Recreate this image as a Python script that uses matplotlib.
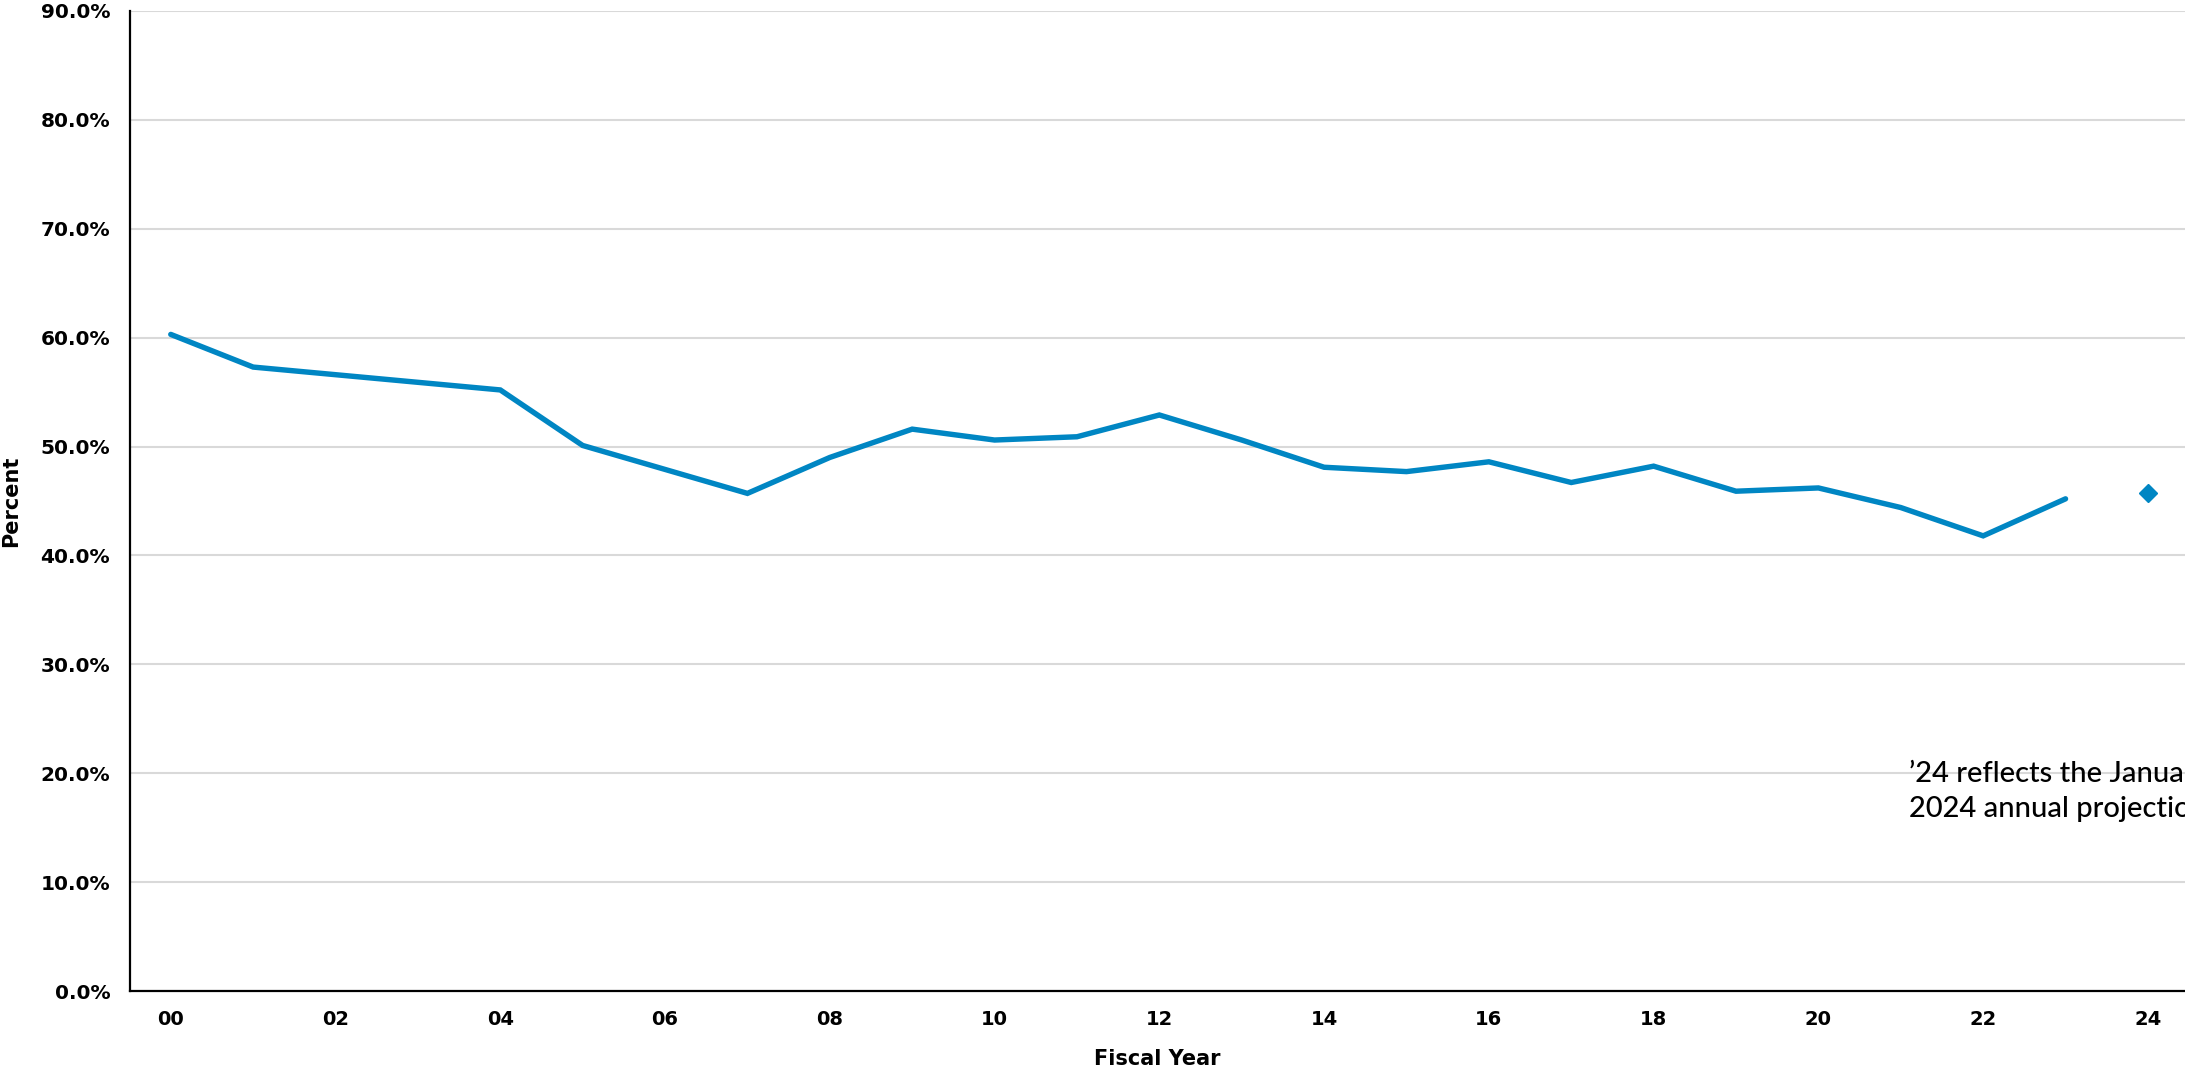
import matplotlib.pyplot as plt

anios = list(range(0, 24))
porcentaje = [60.3, 57.3, 56.6, 55.9, 55.2, 50.1, 47.9, 45.7, 49.0, 51.6, 50.6, 50.9,
              52.9, 50.6, 48.1, 47.7, 48.6, 46.7, 48.2, 45.9, 46.2, 44.4, 41.8, 45.2]

anio_proyeccion = [24]
porcentaje_proyeccion = [45.7]

ticks_x = list(range(0, 25, 2))
etiquetas_x = [f'{a:02d}' for a in ticks_x]
ticks_y = [0, 10, 20, 30, 40, 50, 60, 70, 80, 90]
etiquetas_y = [f'{v:.1f}%' for v in ticks_y]

nota = '\u201924 reflects the January\n2024 annual projection'

azul = '#0086C3'

fig = plt.figure(figsize=(21.85, 10.67), dpi=100)
ax = fig.add_axes([0.0593, 0.0712, 0.9407, 0.9185])

ax.plot(anios, porcentaje, color=azul, linewidth=3.9, solid_capstyle='round',
        solid_joinstyle='miter', zorder=3)
ax.plot(anio_proyeccion, porcentaje_proyeccion, linestyle='none', marker='D',
        markersize=9, color=azul, zorder=3)

ax.set_xlim(-0.5, 24.45)
ax.set_ylim(0, 90)
ax.set_xticks(ticks_x)
ax.set_xticklabels(etiquetas_x, fontsize=14, fontweight='bold')
ax.set_yticks(ticks_y)
ax.set_yticklabels(etiquetas_y, fontsize=14.5, fontweight='bold')
ax.tick_params(axis='both', length=0, pad=14)

ax.grid(axis='y', color='#D9D9D9', linewidth=1.5)
ax.set_axisbelow(True)
for lado in ['top', 'right']:
    ax.spines[lado].set_visible(False)
for lado in ['left', 'bottom']:
    ax.spines[lado].set_linewidth(1.6)
    ax.spines[lado].set_color('black')

ax.set_xlabel('Fiscal Year', fontsize=15, fontweight='bold', labelpad=14)
ax.set_ylabel('Percent', fontsize=15, fontweight='bold', labelpad=14)

# nota de la proyeccion, se corta en el borde derecho
ax.text(21.1, 21.2, nota, fontsize=21, family='Lato', fontweight='medium',
        va='top', ha='left', linespacing=1.4, clip_on=False)

fig.savefig('out.png', dpi=100)
